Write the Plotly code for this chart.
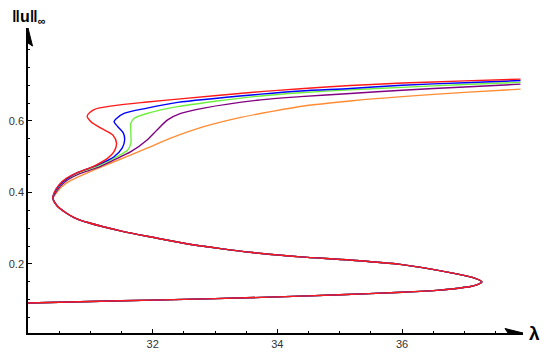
import plotly.graph_objects as go

# lower + middle branch, shared by every curve (start -> nose -> left turn)
base_lam = [30.0, 31.0, 32.0, 33.0, 34.0, 35.0, 36.0, 36.6, 36.93, 37.1, 37.22, 37.28,
            37.14, 36.77, 35.97, 35.17, 34.37, 33.6, 33.09, 32.5, 32.02, 31.5, 30.96,
            30.74, 30.6, 30.47, 30.40]
base_u = [0.091, 0.095, 0.099, 0.103, 0.108, 0.114, 0.121, 0.127, 0.133, 0.137, 0.143, 0.150,
          0.162, 0.176, 0.199, 0.211, 0.220, 0.232, 0.243, 0.258, 0.274, 0.292, 0.316,
          0.330, 0.344, 0.362, 0.384]

# upper branches, one per curve
red_lam = [30.42, 30.50, 30.62, 30.80, 31.06, 31.28, 31.38, 31.42, 31.36, 31.17, 31.01, 30.95,
           31.06, 31.38, 31.91, 32.4, 33.73, 34.37, 35.17, 36.0, 37.0, 37.9]
red_u = [0.400, 0.422, 0.440, 0.456, 0.474, 0.496, 0.514, 0.538, 0.561, 0.580, 0.598, 0.614,
         0.632, 0.643, 0.653, 0.661, 0.682, 0.690, 0.699, 0.706, 0.712, 0.717]

blue_lam = [30.42, 30.50, 30.62, 30.80, 31.12, 31.38, 31.51, 31.55, 31.53, 31.44, 31.38, 31.42,
            31.54, 31.91, 32.4, 33.73, 34.37, 35.17, 36.0, 37.0, 37.9]
blue_u = [0.398, 0.420, 0.438, 0.456, 0.477, 0.500, 0.524, 0.547, 0.566, 0.584, 0.598, 0.607,
          0.621, 0.636, 0.652, 0.675, 0.684, 0.691, 0.700, 0.707, 0.713]

green_lam = [30.42, 30.50, 30.62, 30.80, 31.12, 31.38, 31.60, 31.65, 31.65, 31.65, 31.70, 31.91,
             32.4, 33.0, 33.73, 34.37, 35.17, 36.0, 37.0, 37.9]
green_u = [0.397, 0.419, 0.437, 0.455, 0.474, 0.496, 0.519, 0.538, 0.566, 0.594, 0.607, 0.621,
           0.640, 0.655, 0.670, 0.679, 0.687, 0.694, 0.702, 0.708]

purple_lam = [30.43, 30.52, 30.64, 30.82, 31.12, 31.38, 31.65, 31.91, 32.07, 32.24, 32.45, 32.82,
              33.73, 34.37, 35.17, 36.0, 37.0, 37.9]
purple_u = [0.396, 0.418, 0.436, 0.452, 0.470, 0.491, 0.514, 0.547, 0.575, 0.603, 0.621, 0.636,
            0.659, 0.668, 0.677, 0.686, 0.695, 0.703]

orange_lam = [30.44, 30.54, 30.68, 30.95, 31.38, 31.91, 32.29, 32.82, 33.36, 33.89, 34.42, 35.17,
              36.0, 37.0, 37.9]
orange_u = [0.395, 0.416, 0.433, 0.455, 0.486, 0.524, 0.552, 0.584, 0.608, 0.626, 0.642, 0.656,
            0.668, 0.680, 0.689]

x_ticks = [32, 34, 36]
y_ticks = [0.2, 0.4, 0.6]

curves = [
    (orange_lam, orange_u, "#ff8c33"),
    (purple_lam, purple_u, "#800080"),
    (green_lam, green_u, "#6fef3f"),
    (blue_lam, blue_u, "#0000ff"),
    (red_lam, red_u, "#ff1a1a"),
]

fig = go.Figure()

for lam, u, color in curves:
    fig.add_trace(go.Scatter(
        x=base_lam + lam, y=base_u + u,
        mode="lines",
        line=dict(color=color, width=1.4, shape="spline", smoothing=0.8),
        hoverinfo="skip",
        showlegend=False,
    ))

x_min, x_max = 30.0, 37.94
y_min, y_max = 0.007, 0.86

fig.update_xaxes(
    range=[x_min, x_max], automargin=False,
    showline=True, linecolor="black", linewidth=1.5,
    showgrid=False, zeroline=False,
    tickmode="array", tickvals=x_ticks,
    ticks="inside", ticklen=4, tickcolor="black",
    minor=dict(tickmode="array", tickvals=[30.5 + 0.5 * i for i in range(15)],
               ticks="inside", ticklen=2.5, tickcolor="black"),
    tickfont=dict(family="Liberation Sans", size=11, color="#333"),
)
fig.update_yaxes(
    range=[y_min, y_max], automargin=False,
    showline=True, linecolor="black", linewidth=1.5,
    showgrid=False, zeroline=False,
    tickmode="array", tickvals=y_ticks, ticktext=["0.2", "0.4", "0.6"],
    ticks="inside", ticklen=4, tickcolor="black",
    minor=dict(tickmode="array", tickvals=[0.05 * i for i in range(1, 17)],
               ticks="inside", ticklen=2.5, tickcolor="black"),
    tickfont=dict(family="Liberation Sans", size=11, color="#333"),
)

# arrowheads at the end of both axes
fig.add_shape(type="path", xref="x", yref="y", xsizemode="pixel", ysizemode="pixel",
              xanchor=x_max, yanchor=y_min,
              path="M0,0 L-18,4.5 L-15,0 L-18,-4.5 Z",
              fillcolor="black", line=dict(color="black", width=1))
fig.add_shape(type="path", xref="x", yref="y", xsizemode="pixel", ysizemode="pixel",
              xanchor=x_min, yanchor=y_max,
              path="M0,0 L-4.5,-18 L0,-15 L4.5,-18 Z",
              fillcolor="black", line=dict(color="black", width=1))

fig.add_annotation(text="<b>‖u‖<sub>∞</sub></b>", xref="paper", yref="paper",
                   x=-0.036, y=1.036, xanchor="left", yanchor="middle", showarrow=False,
                   font=dict(family="Liberation Sans", size=16, color="black"))
fig.add_annotation(text="<b>λ</b>", xref="paper", yref="paper",
                   x=1.024, y=0, xanchor="center", yanchor="middle", showarrow=False,
                   font=dict(family="Liberation Sans", size=19, color="black"))

# page body adds an 8px offset, so the figure is a little smaller than the window
fig.update_layout(
    width=542, height=346,
    margin=dict(l=20, r=27, t=20, b=21),
    plot_bgcolor="white",
    paper_bgcolor="white",
    showlegend=False,
)

fig.write_html("out.html")
